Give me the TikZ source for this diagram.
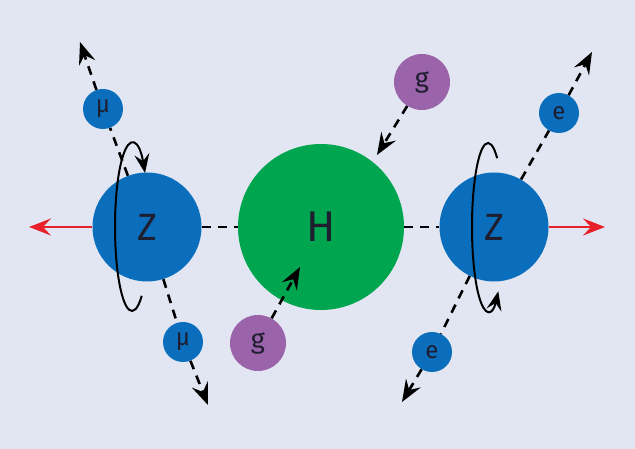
\documentclass[tikz,border=0pt]{standalone}
\usepackage{fontspec}
\setmainfont{Fira Sans}
\usetikzlibrary{arrows.meta}
\definecolor{bgblue}{HTML}{E2E6F2}
\definecolor{zblue}{HTML}{0A6EBD}
\definecolor{hgreen}{HTML}{00A54F}
\definecolor{gpurple}{HTML}{9B63AA}
\definecolor{pullred}{HTML}{E8202A}
\definecolor{inkdark}{HTML}{1E1E30}
\tikzset{%
  zball/.style={circle,fill=zblue,minimum size=109pt,inner sep=0pt,text=inkdark,font=\fontsize{38}{38}\selectfont},
  hball/.style={circle,fill=hgreen,minimum size=166pt,inner sep=0pt,text=inkdark,font=\fontsize{43}{43}\selectfont},
  lepton/.style={circle,fill=zblue,minimum size=40pt,inner sep=0pt,text=inkdark,font=\fontsize{24}{24}\selectfont},
  gluon/.style={circle,fill=gpurple,minimum size=56pt,inner sep=0pt,text=inkdark,font=\fontsize{27}{27}\selectfont},
  track/.style={line width=2.6pt,dash pattern=on 9pt off 7pt},
  trackarrow/.style={track,-{Stealth[length=22pt,width=17pt,inset=8pt]}},
  pull/.style={pullred,line width=2.6pt,-{Stealth[length=22pt,width=17pt,inset=8pt]}},
  spin/.style={line width=2pt,-{Stealth[length=19pt,width=15pt,inset=7pt]}}
}
\begin{document}
\begin{tikzpicture}[x=1pt,y=1pt]

% Background
\fill[bgblue] (0,0) rectangle (635,449);
\useasboundingbox (0,0) rectangle (635,449);

% Bosons
\node[zball] (zleft) at (147,222) {Z};
\node[hball] (higgs) at (321,222) {H};
\node[zball] (zright) at (494,222) {Z};

% Decay products and gluons
\node[lepton] (muup) at (103,340) {μ};
\node[lepton] (mudown) at (183,107) {μ};
\node[lepton] (eup) at (559,336) {e};
\node[lepton] (edown) at (432,97) {e};
\node[gluon] (gup) at (422,367) {g};
\node[gluon] (gdown) at (258,106) {g};

% Free ends
\coordinate (muuptip) at (80,407);
\coordinate (mudowntip) at (208,44);
\coordinate (euptip) at (592,397);
\coordinate (edowntip) at (402,47);
\coordinate (guptip) at (377,294);
\coordinate (gdowntip) at (300,182);
\coordinate (lefttip) at (29,222);
\coordinate (righttip) at (605,222);

% Z -- H -- Z
\draw[track] (zleft) -- (higgs);
\draw[track] (higgs) -- (zright);

% Muons
\draw[track] (zleft) -- (muup);
\draw[trackarrow] (muup) -- (muuptip);
\draw[track] (zleft) -- (mudown);
\draw[trackarrow] (mudown) -- (mudowntip);

% Electrons
\draw[track] (zright) -- (eup);
\draw[trackarrow] (eup) -- (euptip);
\draw[track] (zright) -- (edown);
\draw[trackarrow] (edown) -- (edowntip);

% Gluons into H
\draw[trackarrow] (gup) -- (guptip);
\draw[trackarrow] (gdown) -- (gdowntip);

% Pull on the Z bosons
\draw[pull] (zleft) -- (lefttip);
\draw[pull] (zright) -- (righttip);

% Spin loops
\draw[spin] ([xshift=-15pt]zleft.center) ++(-55:17 and 84) arc[start angle=-55,end angle=-320,x radius=17,y radius=84];
\draw[spin] ([xshift=-6pt]zright.center) ++(55:16 and 84) arc[start angle=55,end angle=310,x radius=16,y radius=84];

\end{tikzpicture}
\end{document}
